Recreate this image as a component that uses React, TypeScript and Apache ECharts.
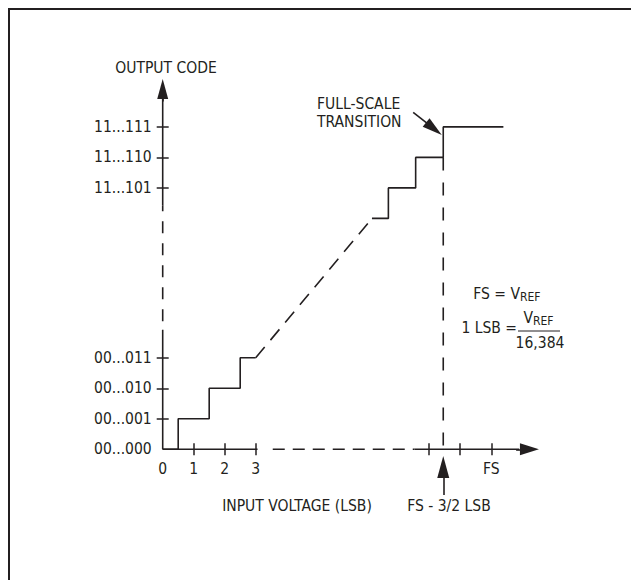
import React, { useEffect, useRef } from "react";
import * as echarts from "echarts";

const FONT =
  "'Liberation Sans Narrow', 'DejaVu Sans Condensed', 'Roboto Condensed', 'Liberation Sans', Arial, sans-serif";
const INK = "#231f20";
const FS_SIZE = 15.5;

// x: input voltage in LSB (schematic), y: output code level (schematic)
const xLabelValues = [0, 1, 2, 3, 10.6];
const xLabelTexts = ["0", "1", "2", "3", "FS"];
const xTickValues = [1, 2, 3, 8.58, 9.58, 10.6];

const yLabelValues = [0, 1, 2, 3, 8.57, 9.57, 10.57];
const yLabelTexts = ["00...000", "00...001", "00...010", "00...011", "11...101", "11...110", "11...111"];
const yTickValues = [1, 2, 3, 8.57, 9.57, 10.57];

const lowerSteps = [[0, 0], [0.5, 0], [0.5, 1], [1.5, 1], [1.5, 2], [2.5, 2], [2.5, 3], [3, 3]];
const middleRamp = [[3, 3], [6.75, 7.57]];
const upperSteps = [
  [6.75, 7.57], [7.28, 7.57], [7.28, 8.57], [8.16, 8.57], [8.16, 9.57],
  [9.05, 9.57], [9.05, 10.57], [10.99, 10.57],
];
const transitionDrop = [[9.05, 9.57], [9.05, 0]];

const xAxisSolidA = [[0, 0], [3.06, 0]];
const xAxisDashed = [[3.55, 0], [8.12, 0]];
const xAxisSolidB = [[8.12, 0], [11.5, 0]];
const yAxisSolidA = [[0, 0], [0, 3.92]];
const yAxisDashed = [[0, 4.2], [0, 8.0]];
const yAxisSolidB = [[0, 8.0], [0, 11.5]];

// arrow shafts: [from, to(head centre)]
const arrowX = [[11.4, 0], [11.83, 0]];
const arrowY = [[0, 11.4], [0, 11.81]];
const arrowFsMark = [[9.05, -1.5], [9.05, -0.58]];
const arrowTransition = [[8.08, 11.05], [8.75, 10.51]];

const pick = (vals: number[], texts: string[]) => (v: number) => {
  const i = vals.findIndex((x) => Math.abs(x - v) < 1e-6);
  return i >= 0 ? texts[i] : "";
};

export default function App() {
  const ref = useRef<HTMLDivElement>(null);
  useEffect(() => {
    if (!ref.current) return;
    const chart = echarts.init(ref.current, undefined, { renderer: "svg" });

    const line = (data: number[][], type: any) => ({
      type: "line",
      data,
      symbol: "none",
      showSymbol: false,
      silent: true,
      clip: false,
      lineStyle: { color: INK, width: 1.6, type },
    });

    const arrowItem = (a: number[][], size: number[]) => [
      { coord: a[0], symbol: "none" },
      { coord: a[1], symbol: "triangle", symbolSize: size },
    ];

    const labelStyle = { color: INK, fontFamily: FONT, fontSize: FS_SIZE };

    // y range -2..12.5 over the grid; the x axis sits at y = 0, i.e. 61px above the grid bottom
    const xBase = {
      type: "value",
      min: 0,
      max: 12.5,
      position: "bottom",
      offset: -61,
      splitLine: { show: false },
      axisLine: { show: false, onZero: false },
    };
    const yBase = {
      type: "value",
      min: -2,
      max: 12.5,
      position: "left",
      splitLine: { show: false },
      axisLine: { show: false, onZero: false },
    };
    const tick = (vals: number[], inside: boolean) => ({
      show: true,
      inside,
      length: 6,
      customValues: vals,
      lineStyle: { color: INK, width: 1.5 },
    });

    const txt = (text: string, x: number, y: number, align: string, size = FS_SIZE) => ({
      type: "text",
      x,
      y,
      silent: true,
      style: {
        text,
        fill: INK,
        fontFamily: FONT,
        fontSize: size,
        align,
        textAlign: align,
        verticalAlign: "middle",
        textVerticalAlign: "middle",
      },
    });

    chart.setOption({
      animation: false,
      backgroundColor: "#ffffff",
      grid: { left: 162.7, right: 80.8, top: 68.05, bottom: 69.7, outerBoundsMode: "none" },
      xAxis: [
        {
          ...xBase,
          axisTick: tick(xTickValues, false),
          axisLabel: {
            ...labelStyle,
            margin: 12,
            customValues: xLabelValues,
            formatter: pick(xLabelValues, xLabelTexts),
          },
        },
        { ...xBase, axisTick: tick(xTickValues, true), axisLabel: { show: false } },
      ],
      yAxis: [
        {
          ...yBase,
          axisTick: tick(yTickValues, false),
          axisLabel: {
            ...labelStyle,
            margin: 11,
            customValues: yLabelValues,
            formatter: pick(yLabelValues, yLabelTexts),
          },
        },
        { ...yBase, axisTick: tick(yTickValues, true), axisLabel: { show: false } },
      ],
      series: [
        line(lowerSteps, "solid"),
        line(middleRamp, [14, 9]),
        line(upperSteps, "solid"),
        line(transitionDrop, [13, 12]),
        line(xAxisSolidA, "solid"),
        line(xAxisDashed, [12, 8]),
        line(xAxisSolidB, "solid"),
        line(yAxisSolidA, "solid"),
        line(yAxisDashed, [12, 10]),
        line(yAxisSolidB, "solid"),
        {
          type: "line",
          data: [],
          silent: true,
          markLine: {
            silent: true,
            animation: false,
            symbol: ["none", "triangle"],
            label: { show: false },
            emphasis: { disabled: true },
            lineStyle: { color: INK, width: 1.6, type: "solid" },
            itemStyle: { color: INK },
            data: [
              arrowItem(arrowX, [12, 19]),
              arrowItem(arrowY, [11, 20]),
              arrowItem(arrowFsMark, [12, 22]),
              arrowItem(arrowTransition, [11, 20]),
            ],
          },
        },
      ],
      graphic: [
        { type: "line", silent: true, shape: { x1: 8, y1: 9, x2: 631, y2: 9 }, style: { stroke: INK, lineWidth: 2 } },
        { type: "line", silent: true, shape: { x1: 9, y1: 8, x2: 9, y2: 580 }, style: { stroke: INK, lineWidth: 2 } },
        txt("OUTPUT CODE", 166, 68, "center"),
        txt("FULL-SCALE", 317, 104, "left"),
        txt("TRANSITION", 317, 122, "left"),
        txt("INPUT VOLTAGE (LSB)", 297, 506, "center"),
        txt("FS - 3/2 LSB", 449, 506, "center"),
        txt("FS = V", 520, 294, "right"),
        txt("REF", 520, 297, "left", 12),
        txt("1 LSB =", 517, 328, "right"),
        txt("V", 533, 318, "right"),
        txt("REF", 533, 321, "left", 12),
        { type: "line", silent: true, shape: { x1: 518, y1: 331, x2: 560, y2: 331 }, style: { stroke: INK, lineWidth: 1 } },
        txt("16,384", 540, 343, "center"),
      ],
    });
    return () => chart.dispose();
  }, []);
  return (
    <div
      ref={ref}
      style={{ position: "absolute", left: 0, top: 0, width: 631, height: 580 }}
    />
  );
}
